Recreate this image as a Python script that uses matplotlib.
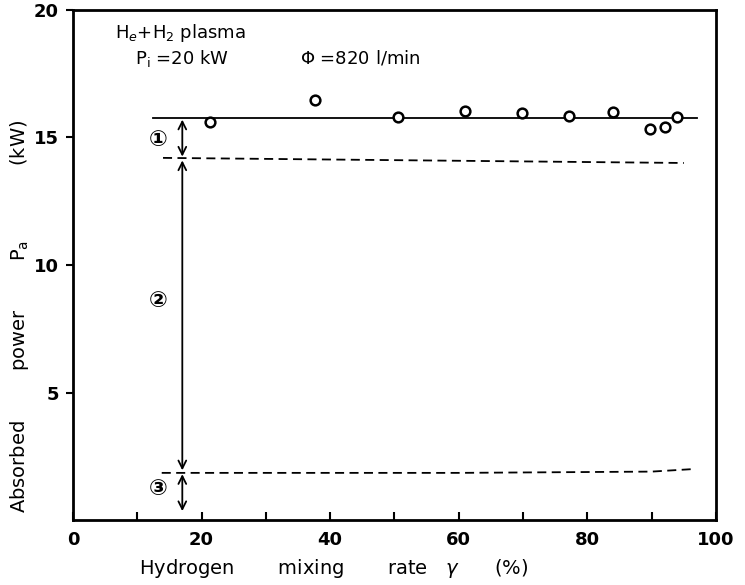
import matplotlib.pyplot as plt

# measured points
mix_rate = [21.3, 37.6, 50.5, 61.0, 69.9, 77.2, 84.0, 89.8, 92.1, 93.9]
absorbed = [15.6, 16.45, 15.8, 16.05, 15.95, 15.85, 16.0, 15.35, 15.4, 15.8]

# fitted / boundary lines
fit_x = [12.5, 97.0]
fit_y = [15.75, 15.75]
upper_x = [14.0, 95.0]
upper_y = [14.2, 14.0]
lower_x = [13.8, 60.0, 90.0, 96.5]
lower_y = [1.85, 1.85, 1.9, 2.0]

# region arrows (x, top, bottom) and labels
arrow_x = 17.0
regions = ['①', '②', '③']
region_top = [15.7, 14.1, 1.8]
region_bot = [14.25, 1.95, 0.35]
region_label_y = [14.9, 8.6, 1.2]

xticks_major = [0, 20, 40, 60, 80, 100]
xticks_minor = [10, 30, 50, 70, 90]
yticks = [5, 10, 15, 20]

plt.rcParams['font.family'] = ['DejaVu Sans']

fig = plt.figure(figsize=(7.45, 5.85), dpi=100)
ax = fig.add_axes([0.098, 0.111, 0.863, 0.872])

ax.plot(fit_x, fit_y, color='black', lw=1.3, zorder=2)
ax.plot(upper_x, upper_y, color='black', lw=1.3, ls=(0, (5, 3)))
ax.plot(lower_x, lower_y, color='black', lw=1.3, ls=(0, (5, 3)))
ax.plot(mix_rate, absorbed, 'o', ms=7, mfc='white', mec='black', mew=1.8, zorder=3)

for lab, top, bot, ly in zip(regions, region_top, region_bot, region_label_y):
    ax.annotate('', xy=(arrow_x, bot), xytext=(arrow_x, top),
                arrowprops=dict(arrowstyle='<->', color='black', lw=1.3,
                                shrinkA=0, shrinkB=0, mutation_scale=14))
    ax.text(13.3, ly, lab, fontsize=16, fontweight='bold', ha='center', va='center')

ax.text(6.5, 19.1, r'H$_e$+H$_2$ plasma', fontsize=13, va='center')
ax.text(9.6, 18.1, r'P$_\mathrm{i}$ =20 kW', fontsize=13, va='center')
ax.text(35.3, 18.1, r'$\Phi$ =820 l/min', fontsize=13, va='center')

ax.set_xlim(0, 100)
ax.set_ylim(0, 20)
ax.set_xticks(xticks_major)
ax.set_xticks(xticks_minor, minor=True)
ax.set_yticks(yticks)
ax.tick_params(axis='x', which='both', direction='in', length=6, width=1.5,
               labelsize=13, pad=8)
ax.tick_params(axis='y', direction='out', length=5, width=1.5, labelsize=13, pad=5)
for t in ax.get_xticklabels() + ax.get_yticklabels():
    t.set_fontweight('bold')

for s in ax.spines.values():
    s.set_linewidth(2.0)

ax.set_xlabel(r'Hydrogen       mixing       rate   $\gamma$      (%)',
              fontsize=14)
ax.xaxis.set_label_coords(0.405, -0.072)
ax.set_ylabel(r'Absorbed        power        P$_\mathrm{a}$            (kW)',
              fontsize=14)
ax.yaxis.set_label_coords(-0.066, 0.40)

fig.savefig('out.png', dpi=100)
